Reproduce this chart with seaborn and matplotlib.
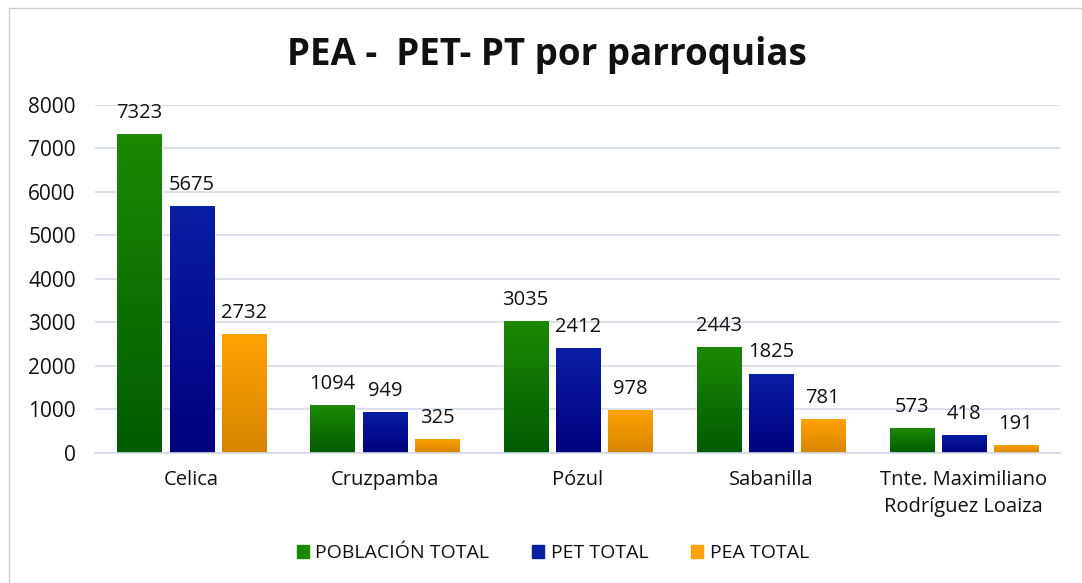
import pandas as pd
import numpy as np
import matplotlib.pyplot as plt
import matplotlib.colors as mcolors
from matplotlib.patches import Rectangle
import seaborn as sns

parroquias = ['Celica', 'Cruzpamba', 'Pózul', 'Sabanilla', 'Tnte. Maximiliano\nRodríguez Loaiza']
poblacion_total = [7323, 1094, 3035, 2443, 573]
pet_total = [5675, 949, 2412, 1825, 418]
pea_total = [2732, 325, 978, 781, 191]
series = ['POBLACIÓN TOTAL', 'PET TOTAL', 'PEA TOTAL']

df = pd.DataFrame({
    'parroquia': parroquias * 3,
    'serie': [s for s in series for _ in parroquias],
    'valor': poblacion_total + pet_total + pea_total,
})

# top / bottom colours of each gradient
grad = {
    'POBLACIÓN TOTAL': ('#1c8804', '#005c00'),
    'PET TOTAL': ('#0a1ea4', '#00007c'),
    'PEA TOTAL': ('#ffa200', '#d88400'),
}

sns.set_theme(style='white')
plt.rcParams['font.family'] = ['Open Sans', 'DejaVu Sans']

fig = plt.figure(figsize=(10.82, 5.83), dpi=100)
ax = fig.add_axes([0.088, 0.223, 0.892, 0.597])

sns.barplot(data=df, x='parroquia', y='valor', hue='serie', hue_order=series,
            palette=[grad[s][0] for s in series], width=0.81, gap=0.15,
            saturation=1, ax=ax, legend=False)

# gradient fill on each bar
for cont, s in zip(ax.containers, series):
    cmap = mcolors.LinearSegmentedColormap.from_list(s, [grad[s][1], grad[s][0]])
    for bar in cont:
        x0, w, h = bar.get_x(), bar.get_width(), bar.get_height()
        img = ax.imshow(np.linspace(0, 1, 100).reshape(-1, 1), cmap=cmap, origin='lower',
                        extent=[x0, x0 + w, 0, h], aspect='auto', zorder=bar.get_zorder() + 0.1)
        img.set_clip_path(bar)
    ax.bar_label(cont, fmt='%d', padding=8, fontsize=14.5, color='#111111')

ax.set_xlim(-0.5, 4.5)
ax.set_ylim(0, 8000)
ax.set_yticks(range(0, 8001, 1000))
ax.yaxis.grid(True, color='#d3dbe6', linewidth=1.2)
ax.set_axisbelow(True)
ax.tick_params(axis='y', labelsize=15, pad=14, length=0, labelcolor='#111111')
ax.tick_params(axis='x', labelsize=14.5, pad=12, length=0, labelcolor='#111111')
for lbl in ax.get_xticklabels():
    lbl.set_linespacing(1.5)
ax.set_xlabel('')
ax.set_ylabel('')
for sp in ['top', 'right', 'left']:
    ax.spines[sp].set_visible(False)
ax.spines['bottom'].set_color('#d3dbe6')
ax.spines['bottom'].set_linewidth(1.2)

fig.text(0.505, 0.906, 'PEA -  PET- PT por parroquias', ha='center', va='center',
         fontsize=26.5, fontweight='bold', color='#111111')

handles = [Rectangle((0, 0), 1, 1, color=grad[s][0]) for s in series]
fig.legend(handles, series, loc='center', bbox_to_anchor=(0.511, 0.051), ncol=3,
           frameon=False, fontsize=14, handlelength=0.6, handleheight=0.6,
           handletextpad=0.35, columnspacing=2.2, labelcolor='#111111')

fig.patches.append(Rectangle((0.008, -0.01), 1.0, 0.996, transform=fig.transFigure,
                             fill=False, edgecolor='#c8ccd2', linewidth=1))

fig.savefig('out.png', dpi=100)
